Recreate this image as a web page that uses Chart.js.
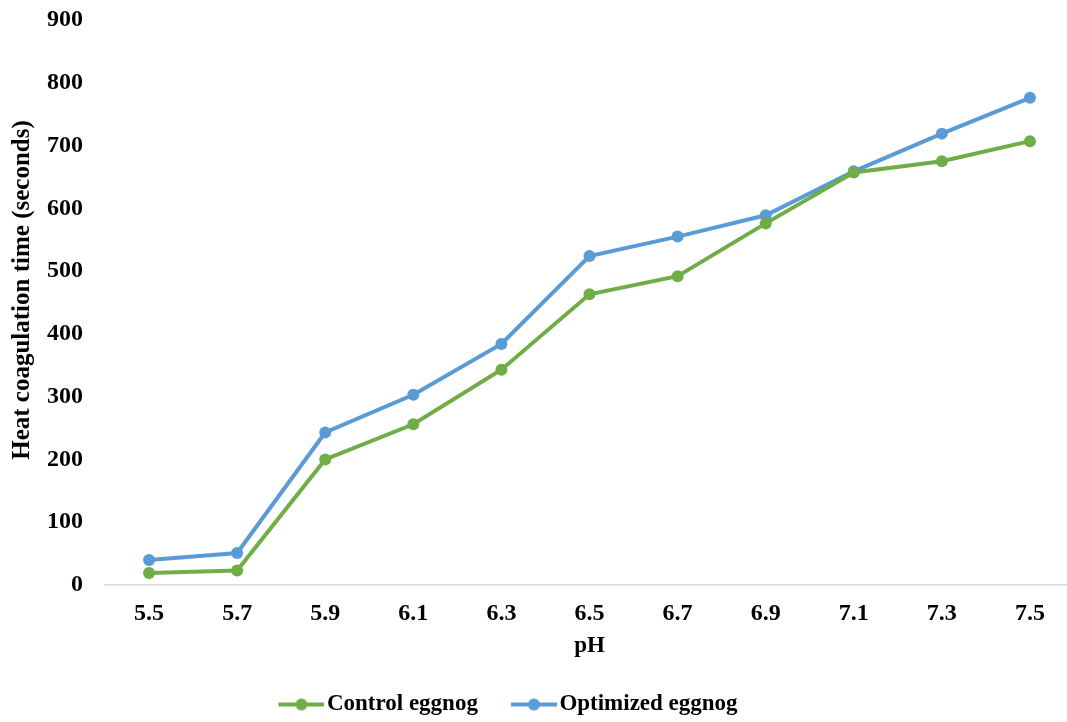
<!DOCTYPE html>
<html>
<head>
<meta charset="utf-8">
<script src="https://cdn.jsdelivr.net/npm/chart.js@4/dist/chart.umd.min.js"></script>
<style>
  html, body { margin: 0; padding: 0; background: #fff; overflow: hidden; }
  #wrap { position: relative; width: 1080px; height: 726px; }
</style>
</head>
<body>
<div id="wrap"><canvas id="chart"></canvas></div>
<script>
// pH values on the x axis
const phLabels = ['5.5', '5.7', '5.9', '6.1', '6.3', '6.5', '6.7', '6.9', '7.1', '7.3', '7.5'];
// Heat coagulation time (seconds)
const controlEggnog   = [19, 23, 200, 256, 343, 463, 492, 576, 657, 675, 707];
const optimizedEggnog = [40, 51, 243, 303, 384, 524, 555, 589, 659, 719, 776];
const yTicks = { min: 0, max: 900, step: 100 };

const GREEN = '#70AD47';
const BLUE = '#5B9BD5';
const FONT = '"Liberation Serif", "Times New Roman", serif';

// Legend marker: a short line with a dot in the middle
function legendMarker(color) {
  const c = document.createElement('canvas');
  c.width = 64; c.height = 14;
  const g = c.getContext('2d');
  g.strokeStyle = color;
  g.lineWidth = 4;
  g.beginPath();
  g.moveTo(18, 7);
  g.lineTo(64, 7);
  g.stroke();
  g.fillStyle = color;
  g.beginPath();
  g.arc(41, 7, 6, 0, Math.PI * 2);
  g.fill();
  return c;
}
const markers = [legendMarker(GREEN), legendMarker(BLUE)];

// Nudge the legend row a little to the left of centre
const legendShift = {
  id: 'legendShift',
  afterLayout(chart) {
    const lg = chart.legend;
    if (lg) { lg.left -= 35; lg.right -= 35; }
  }
};

new Chart(document.getElementById('chart'), {
  type: 'line',
  data: {
    labels: phLabels,
    datasets: [
      {
        label: 'Control eggnog',
        data: controlEggnog,
        borderColor: GREEN,
        backgroundColor: GREEN,
        borderWidth: 4,
        pointRadius: 6,
        pointBorderWidth: 0,
        pointBackgroundColor: GREEN,
        tension: 0
      },
      {
        label: 'Optimized eggnog',
        data: optimizedEggnog,
        borderColor: BLUE,
        backgroundColor: BLUE,
        borderWidth: 4,
        pointRadius: 6,
        pointBorderWidth: 0,
        pointBackgroundColor: BLUE,
        tension: 0
      }
    ]
  },
  plugins: [legendShift],
  options: {
    responsive: true,
    maintainAspectRatio: false,
    animation: false,
    layout: { padding: { top: 20, right: 3, left: 0, bottom: 0 } },
    plugins: {
      tooltip: { enabled: false },
      legend: {
        position: 'bottom',
        labels: {
          usePointStyle: true,
          pointStyleWidth: 46,
          padding: 24,
          color: '#000',
          font: { family: FONT, size: 23, weight: 'bold' },
          generateLabels(chart) {
            const items = Chart.defaults.plugins.legend.labels.generateLabels(chart);
            items.forEach((it, i) => { it.pointStyle = markers[i]; });
            return items;
          }
        }
      }
    },
    scales: {
      x: {
        offset: true,
        grid: { display: false, drawTicks: false },
        border: { display: true, color: '#D9D9D9', width: 1.5 },
        ticks: {
          padding: 14,
          color: '#000',
          maxRotation: 0,
          font: { family: FONT, size: 24, weight: 'bold' }
        },
        title: {
          display: true,
          text: 'pH',
          color: '#000',
          padding: { top: 0, bottom: 9 },
          font: { family: FONT, size: 23, weight: 'bold' }
        },
        afterFit(scale) {
          scale.height = 84;
          scale.paddingLeft = 0;
          scale.paddingRight = 0;
        }
      },
      y: {
        min: yTicks.min,
        max: yTicks.max,
        grid: { display: false, drawTicks: false },
        border: { display: false },
        ticks: {
          stepSize: yTicks.step,
          padding: 22,
          color: '#000',
          font: { family: FONT, size: 24, weight: 'bold' }
        },
        title: {
          display: true,
          text: '\u00A0\u00A0\u00A0\u00A0Heat coagulation time (seconds)',
          color: '#000',
          padding: { top: 8, bottom: 0 },
          font: { family: FONT, size: 25, weight: 'bold' }
        },
        afterFit(scale) {
          scale.width = 105;
          scale.paddingTop = 0;
          scale.paddingBottom = 0;
        }
      }
    }
  }
});
</script>
</body>
</html>
